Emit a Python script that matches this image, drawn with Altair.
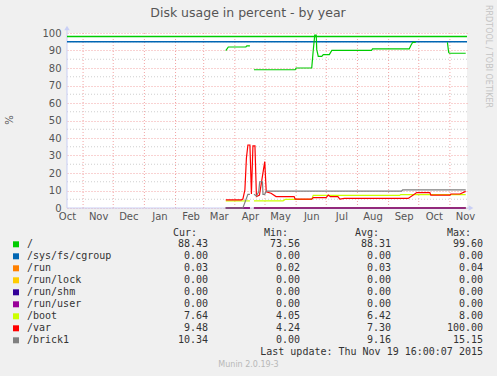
import altair as alt
import pandas as pd

# ---------------- time frame ----------------
X_START = "2014-10-16"
X_END = "2015-11-18"
label_dates = ["2014-10-16", "2014-11-16", "2014-12-16", "2015-01-16", "2015-02-16",
               "2015-03-16", "2015-04-16", "2015-05-16", "2015-06-16", "2015-07-16",
               "2015-08-16", "2015-09-16", "2015-10-16", "2015-11-16"]
grid_dates = ["2014-11-01", "2014-12-01", "2015-01-01", "2015-02-01", "2015-03-01",
              "2015-04-01", "2015-05-01", "2015-06-01", "2015-07-01", "2015-08-01",
              "2015-09-01", "2015-10-01", "2015-11-01"]
y_major = [0, 10, 20, 30, 40, 50, 60, 70, 80, 90, 100]
y_minor = [5, 15, 25, 35, 45, 55, 65, 75, 85, 95]
limit_values = [98, 95]
limit_colors = ["#00CC00", "#0066B3"]

# ---------------- series (None = gap) ----------------
root_dates = ["2015-03-23", "2015-03-25 12:00", "2015-04-12", "2015-04-13", "2015-04-16", None,
              "2015-04-20", "2015-05-31", "2015-06-01", "2015-06-16 12:00", "2015-06-18",
              "2015-06-19 12:00", "2015-06-21", "2015-06-21 12:00", "2015-06-23", "2015-06-26 12:00",
              "2015-06-28", "2015-07-04", "2015-07-06 12:00", "2015-08-15", "2015-08-16",
              "2015-09-21 12:00", "2015-09-23 06:00", "2015-09-25", "2015-09-28", None,
              "2015-10-29 12:00", "2015-10-30 18:00", "2015-10-31 12:00", "2015-11-16 17:00"]
root_vals = [89.9, 92.0, 92.0, 92.6, 92.6, None,
             79.0, 79.0, 80.0, 80.0, 90.0,
             98.8, 98.8, 90.5, 86.7, 86.7,
             87.7, 87.7, 90.1, 90.1, 90.9,
             90.9, 93.0, 94.7, 94.7, None,
             94.7, 89.0, 88.43, 88.43]

zero_dates = ["2015-03-23", "2015-04-16", None, "2015-04-20", "2015-11-16 17:00"]
cgroup_vals = [0.0, 0.0, None, 0.0, 0.0]
run_vals = [0.03, 0.03, None, 0.03, 0.03]
lock_vals = [0.0, 0.0, None, 0.0, 0.0]
shm_vals = [0.0, 0.0, None, 0.0, 0.0]
user_vals = [0.0, 0.0, None, 0.0, 0.0]

boot_dates = ["2015-03-23", "2015-04-16", None, "2015-04-20", "2015-05-19", "2015-05-21",
              "2015-06-16 12:00", "2015-06-18", "2015-09-12", "2015-09-13", "2015-11-16 17:00"]
boot_vals = [4.05, 4.05, None, 4.05, 4.05, 4.9, 4.9, 7.2, 7.2, 7.64, 7.64]

var_dates = ["2015-03-23", "2015-04-07 12:00", "2015-04-09", "2015-04-11", "2015-04-12 12:00",
             "2015-04-14", "2015-04-16", "2015-04-17 12:00", "2015-04-19", "2015-04-21",
             "2015-04-22 12:00", "2015-04-25 12:00", "2015-04-30 18:00", "2015-05-02 06:00",
             "2015-05-07", "2015-05-12", "2015-05-30", "2015-05-31", "2015-06-16 12:00",
             "2015-06-18", "2015-06-30 18:00", "2015-07-03", "2015-07-05", "2015-07-12 12:00",
             "2015-07-14 12:00", "2015-07-19", "2015-09-20 12:00", "2015-09-29", "2015-10-12",
             "2015-10-13", "2015-11-01", "2015-11-02", "2015-11-11", "2015-11-16 17:00"]
var_vals = [4.6, 4.6, 5.1, 10.3, 28.4,
            36.0, 36.0, 8.0, 35.5, 35.5,
            6.5, 7.4, 26.5, 9.3,
            8.4, 6.5, 6.5, 5.1, 5.1,
            5.9, 5.9, 7.4, 6.5, 6.5,
            5.1, 5.5, 5.5, 8.8, 8.8,
            7.4, 7.4, 8.0, 8.0, 9.48]

brick_dates = ["2015-03-23", "2015-04-09", "2015-04-14", "2015-04-16", None,
               "2015-04-20", "2015-04-22 12:00", "2015-04-24 18:00", "2015-04-25 18:00",
               "2015-04-28 12:00", "2015-04-29", "2015-04-30 18:00", "2015-05-02 06:00",
               "2015-09-14", "2015-09-15", "2015-11-16 17:00"]
brick_vals = [0.0, 0.0, 7.8, 7.8, None,
              7.8, 6.9, 9.3, 15.0,
              15.0, 7.8, 7.8, 9.7,
              9.7, 10.34, 10.34]

# ---------------- legend ----------------
names = ["/", "/sys/fs/cgroup", "/run", "/run/lock", "/run/shm", "/run/user", "/boot", "/var", "/brick1"]
colors = ["#00CC00", "#0066B3", "#FF8000", "#FFCC00", "#330099", "#990099", "#CCFF00", "#FF0000", "#808080"]
cur = [88.43, 0.00, 0.03, 0.00, 0.00, 0.00, 7.64, 9.48, 10.34]
mins = [73.56, 0.00, 0.02, 0.00, 0.00, 0.00, 4.05, 4.24, 0.00]
avgs = [88.31, 0.00, 0.03, 0.00, 0.00, 0.00, 6.42, 7.30, 9.16]
maxs = [99.60, 0.00, 0.04, 0.00, 0.00, 0.00, 8.00, 100.00, 15.15]
headers = ["Cur:", "Min:", "Avg:", "Max:"]
title_text = "Disk usage in percent - by year"
update_text = "Last update: Thu Nov 19 16:00:07 2015"
footer_text = "Munin 2.0.19-3"
side_text = "RRDTOOL / TOBI OETIKER"
y_title = "%"

series_dates = [root_dates, zero_dates, zero_dates, zero_dates, zero_dates, zero_dates,
                boot_dates, var_dates, brick_dates]
series_vals = [root_vals, cgroup_vals, run_vals, lock_vals, shm_vals, user_vals,
               boot_vals, var_vals, brick_vals]


def ms(s):
    return int(pd.Timestamp(s, tz="UTC").value // 10**6)


def series_df(dates, vals):
    rows = []
    seg = 0
    for d, v in zip(dates, vals):
        if v is None:
            seg += 1
            continue
        rows.append({"t": ms(d), "v": v, "seg": seg})
    return pd.DataFrame(rows)


GRID_RED = "#F2A4A4"
GRID_GRAY = "#CFCFCF"
AXIS_COL = "#C9CFF5"
TXT = "#555555"
MONO = "DejaVu Sans Mono"
SANS = "DejaVu Sans"

xscale = alt.Scale(type="utc", domain=[ms(X_START), ms(X_END)], nice=False)
yscale = alt.Scale(domain=[0, 100], nice=False)
xaxis = alt.Axis(values=[ms(d) for d in label_dates], labelExpr="utcFormat(datum.value, '%b')",
                 labelFont=SANS, labelFontSize=10, labelColor=TXT, labelPadding=3,
                 ticks=False, domain=False, grid=False, title=None,
                 labelFlush=False, labelOverlap=False, labelBound=False)
yaxis = alt.Axis(values=y_major, grid=True, gridColor=GRID_RED, gridDash=[1, 2],
                 gridOpacity=1, ticks=False, domain=False, title=None,
                 labelFont=SANS, labelFontSize=10, labelColor=TXT, labelPadding=6)
X_ENC = alt.X("t:T", scale=xscale, axis=xaxis)
Y_ENC = alt.Y("v:Q", scale=yscale, axis=yaxis)

layers = []

# vertical month grid
layers.append(
    alt.Chart(pd.DataFrame({"t": [ms(d) for d in grid_dates]}))
    .mark_rule(color=GRID_RED, strokeDash=[1, 2], strokeWidth=1)
    .encode(x=X_ENC)
)
# minor horizontal grid
layers.append(
    alt.Chart(pd.DataFrame({"v": y_minor}))
    .mark_rule(color=GRID_GRAY, strokeDash=[1, 2], strokeWidth=1)
    .encode(y=Y_ENC)
)
# axis lines and arrows
layers.append(
    alt.Chart(pd.DataFrame({"a": [0]})).mark_rule(color=AXIS_COL, strokeWidth=1)
    .encode(x=alt.value(0), y=alt.value(-4), y2=alt.value(175))
)
layers.append(
    alt.Chart(pd.DataFrame({"a": [0]})).mark_rule(color=AXIS_COL, strokeWidth=1)
    .encode(x=alt.value(0), x2=alt.value(404), y=alt.value(175))
)
layers.append(
    alt.Chart(pd.DataFrame({"a": [0]})).mark_point(shape="triangle-up", filled=True, color=AXIS_COL,
                                                   size=30, opacity=1)
    .encode(x=alt.value(0), y=alt.value(-5))
)
layers.append(
    alt.Chart(pd.DataFrame({"a": [0]})).mark_point(shape="triangle-right", filled=True, color=AXIS_COL,
                                                   size=30, opacity=1)
    .encode(x=alt.value(404), y=alt.value(175))
)
# limit lines
for val, col in zip(limit_values, limit_colors):
    layers.append(
        alt.Chart(pd.DataFrame({"v": [val]})).mark_rule(color=col, strokeWidth=1.3)
        .encode(y=Y_ENC)
    )
# data series
for d, v, col in zip(series_dates, series_vals, colors):
    layers.append(
        alt.Chart(series_df(d, v)).mark_line(color=col, strokeWidth=1.2)
        .encode(x=X_ENC, y=Y_ENC, detail="seg:N")
    )

# ---------------- texts ----------------
layers.append(
    alt.Chart(pd.DataFrame({"s": [title_text]}))
    .mark_text(font=SANS, fontSize=12.5, color=TXT, align="center", baseline="middle")
    .encode(text="s:N", x=alt.value(181), y=alt.value(-20))
)
layers.append(
    alt.Chart(pd.DataFrame({"s": [y_title]}))
    .mark_text(font=SANS, fontSize=10, color=TXT, align="center", baseline="middle", angle=270)
    .encode(text="s:N", x=alt.value(-57), y=alt.value(87))
)
layers.append(
    alt.Chart(pd.DataFrame({"s": [side_text]}))
    .mark_text(font=SANS, fontSize=8, color="#C4C4C4", align="center", baseline="middle", angle=90)
    .encode(text="s:N", x=alt.value(421), y=alt.value(23.5))
)

legend = pd.DataFrame({"name": names, "color": colors, "cur": cur, "mn": mins, "avg": avgs, "mx": maxs,
                       "i": list(range(len(names)))})
ROW0 = 211.3
ROWSTEP = 12
ybase = alt.Y("py:Q", scale=None, axis=None)
leg = alt.Chart(legend).transform_calculate(py=f"{ROW0} + {ROWSTEP} * datum.i")
layers.append(
    leg.mark_square(size=36, opacity=1).encode(x=alt.value(-51), y=ybase,
                                               color=alt.Color("color:N", scale=None, legend=None))
)
layers.append(
    leg.mark_text(font=MONO, fontSize=10, color="#333333", align="left", baseline="middle")
    .encode(x=alt.value(-40), y=ybase, text="name:N")
)
for field, xr in zip(["cur", "mn", "avg", "mx"], [141, 233, 324, 416]):
    layers.append(
        leg.mark_text(font=MONO, fontSize=10, color="#333333", align="right", baseline="middle")
        .encode(x=alt.value(xr), y=ybase, text=alt.Text(f"{field}:Q", format=".2f"))
    )
for h, xl in zip(headers, [106, 197, 288, 380]):
    layers.append(
        alt.Chart(pd.DataFrame({"s": [h]}))
        .mark_text(font=MONO, fontSize=10, color="#333333", align="left", baseline="middle")
        .encode(text="s:N", x=alt.value(xl), y=alt.value(199.7))
    )
layers.append(
    alt.Chart(pd.DataFrame({"s": [update_text]}))
    .mark_text(font=MONO, fontSize=10, color="#333333", align="right", baseline="middle")
    .encode(text="s:N", x=alt.value(416), y=alt.value(319.3))
)
layers.append(
    alt.Chart(pd.DataFrame({"s": [footer_text]}))
    .mark_text(font=SANS, fontSize=8, color="#B8B8B8", align="center", baseline="middle")
    .encode(text="s:N", x=alt.value(181.5), y=alt.value(332))
)

chart = (
    alt.layer(*layers)
    .properties(width=400, height=175,
                autosize=alt.AutoSizeParams(type="none"),
                padding={"left": 67, "top": 33, "right": 30, "bottom": 168},
                background="#F0F0F0")
    .configure_view(fill="white", stroke=None)
)

chart.save("out.html", embed_options={"renderer": "svg", "actions": False})
